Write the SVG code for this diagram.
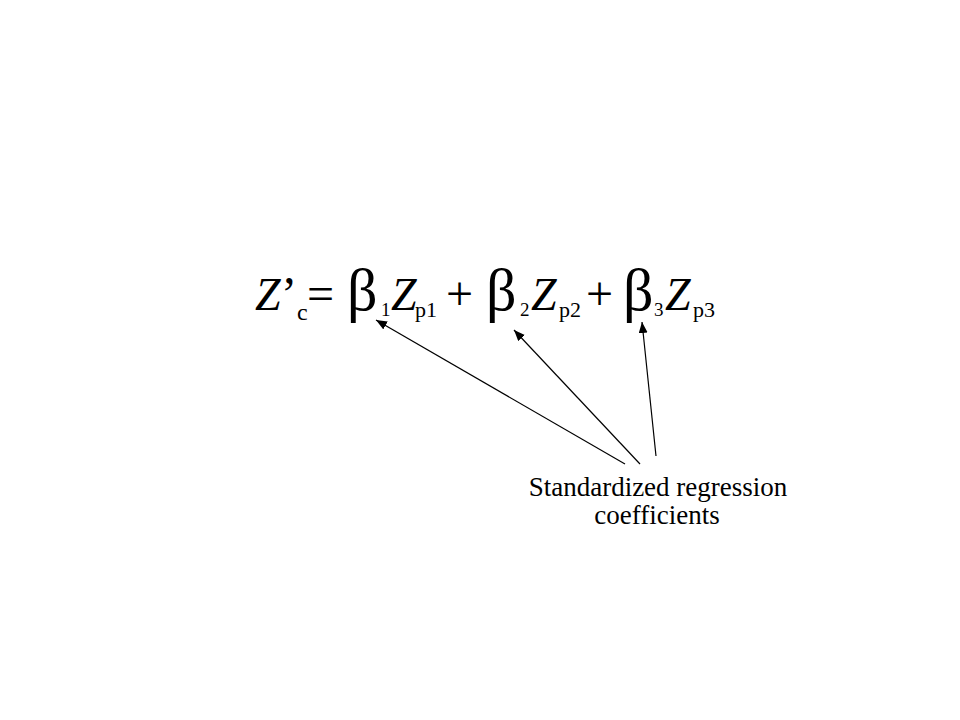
<svg xmlns="http://www.w3.org/2000/svg" width="960" height="720" viewBox="0 0 960 720">
<style>
.t{font-family:"Liberation Serif","Times New Roman",serif;fill:#000}
.z{font-size:46px;font-style:italic}
.m{font-size:48px}
.b{font-size:60px}
.s{font-size:19px}
.p{font-size:22px}
.c{font-size:24px}
.lab{font-size:27px}
.ln{stroke:#000;stroke-width:1.2;fill:none}
</style>
<defs>
<marker id="ah" markerUnits="userSpaceOnUse" markerWidth="12" markerHeight="10" refX="11" refY="4.5" orient="auto">
<path d="M0,0 L11,4.5 L0,9 Z" fill="#000"/>
</marker>
</defs>
<rect width="960" height="720" fill="#fff"/>
<g id="equation">
<text class="t"><tspan class="z" x="255" y="310">Z</tspan><tspan class="m" x="281" y="310">’</tspan><tspan class="c" x="297" y="320">c</tspan><tspan class="m" x="307" y="310">=</tspan><tspan class="b" x="347" y="310">β</tspan><tspan class="s" x="381" y="316">1</tspan><tspan class="z" x="391" y="310">Z</tspan><tspan class="p" x="415" y="317">p1</tspan><tspan class="m" x="446" y="310">+</tspan><tspan class="b" x="486" y="310">β</tspan><tspan class="s" x="520" y="316">2</tspan><tspan class="z" x="531" y="310">Z</tspan><tspan class="p" x="559" y="317">p2</tspan><tspan class="m" x="586" y="310">+</tspan><tspan class="b" x="623" y="310">β</tspan><tspan class="s" x="654" y="316">3</tspan><tspan class="z" x="665" y="310">Z</tspan><tspan class="p" x="693" y="317">p3</tspan></text>
</g>
<g id="label">
<text class="t lab" text-anchor="middle" x="658" y="496">Standardized regression</text>
<text class="t lab" text-anchor="middle" x="657" y="524">coefficients</text>
</g>
<g id="connectors">
<line class="ln" x1="625" y1="464" x2="376" y2="320" marker-end="url(#ah)"/>
<line class="ln" x1="640" y1="464" x2="514" y2="330" marker-end="url(#ah)"/>
<line class="ln" x1="656" y1="456" x2="642" y2="322" marker-end="url(#ah)"/>
</g>
</svg>
